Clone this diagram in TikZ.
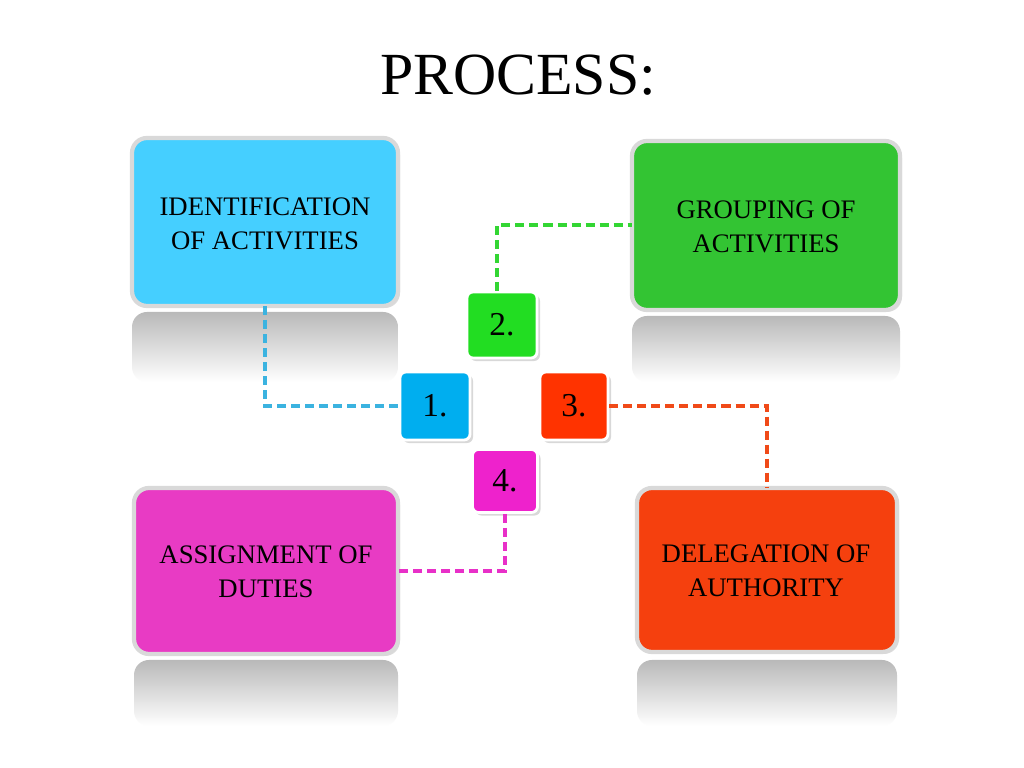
\documentclass[tikz,border=0pt]{standalone}
\usepackage{fontspec}
\setmainfont{Liberation Serif}
\usetikzlibrary{shadows}
\definecolor{cblue}{HTML}{45CFFF}
\definecolor{cgreen}{HTML}{33C433}
\definecolor{cmag}{HTML}{E83BC4}
\definecolor{cred}{HTML}{F5400E}
\definecolor{sblue}{HTML}{00AEEF}
\definecolor{sgreen}{HTML}{22DD22}
\definecolor{sred}{HTML}{FF3300}
\definecolor{smag}{HTML}{EE22CC}
\definecolor{lblue}{HTML}{3BB3E0}
\definecolor{lgreen}{HTML}{33D633}
\definecolor{lred}{HTML}{F04A18}
\definecolor{lmag}{HTML}{E830C8}
\tikzset{
 bigbox/.style={draw=gray!30,line width=1.2pt,rounded corners=0.15cm,drop shadow={opacity=0.25,shadow xshift=0.02cm,shadow yshift=-0.02cm}},
 refl/.style={rounded corners=0.15cm,top color=gray!55,bottom color=white},
 sq/.style={draw=white,line width=0.8pt,rounded corners=0.06cm,drop shadow={opacity=0.3,shadow xshift=0.03cm,shadow yshift=-0.03cm},font=\fontsize{9.5}{11}\selectfont},
 txt/.style={align=center,font=\fontsize{7.6}{9.6}\selectfont},
 link/.style={dashed,dash pattern=on 0.09cm off 0.05cm,line width=1.1pt}
}
\begin{document}
\begin{tikzpicture}[x=0.01cm,y=-0.01cm]
\useasboundingbox[fill=white] (0,0) rectangle (1024,768);
\node (title) at (518,75) {\fontsize{17}{20}\selectfont PROCESS:};
% reflections
\shade[refl] (132,312) rectangle (398,382);
\shade[refl] (632,316) rectangle (900,382);
\shade[refl] (134,660) rectangle (398,726);
\shade[refl] (637,660) rectangle (897,726);
% boxes
\filldraw[bigbox,fill=cblue] (132,138) rectangle (398,306);
\filldraw[bigbox,fill=cgreen] (632,141) rectangle (900,310);
\filldraw[bigbox,fill=cmag] (134,488) rectangle (398,654);
\filldraw[bigbox,fill=cred] (637,488) rectangle (897,652);
\node[txt] (tb) at (265,224) {IDENTIFICATION\\OF ACTIVITIES};
\node[txt] (tg) at (766,227) {GROUPING OF\\ACTIVITIES};
\node[txt] (tm) at (266,572) {ASSIGNMENT OF\\DUTIES};
\node[txt] (tr) at (766,571) {DELEGATION OF\\AUTHORITY};
\coordinate (bB) at (265,306);
\coordinate (gL) at (632,225);
\coordinate (mR) at (398,571);
\coordinate (rT) at (767,488);
% small squares
\node[sq,fill=sblue,minimum width=0.7cm,minimum height=0.68cm] (n1) at (435,406) {1.};
\node[sq,fill=sgreen,minimum width=0.7cm,minimum height=0.66cm] (n2) at (502,325) {2.};
\node[sq,fill=sred,minimum width=0.68cm,minimum height=0.68cm] (n3) at (574,406) {3.};
\node[sq,fill=smag,minimum width=0.65cm,minimum height=0.63cm] (n4) at (505,481) {4.};
% links
\draw[link,lblue] (bB) |- (n1.west);
\draw[link,lgreen] (n2.north -| 497,0) |- (gL);
\draw[link,lred] (n3.east) -| (rT);
\draw[link,lmag] (n4.south) |- (mR);
\end{tikzpicture}
\end{document}
